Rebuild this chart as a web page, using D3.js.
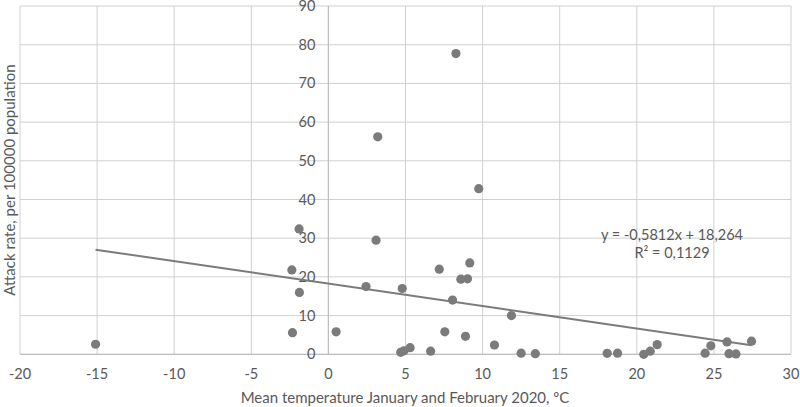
<!DOCTYPE html>
<html><head><meta charset="utf-8">
<script src="https://cdn.jsdelivr.net/npm/d3@7/dist/d3.min.js"></script>
<style>
body{margin:0;background:#fff;}
svg{display:block;}
text{font-family:Lato, "Open Sans", sans-serif;fill:#595959;}
</style></head><body>
<svg id="c" width="800" height="407"></svg>
<script>
const temps = [-15.1,-1.9,-2.37,-1.88,-2.33,0.5,3.09,2.44,4.79,3.2,4.69,4.9,5.3,9.75,8.27,7.19,9.17,8.59,9.02,8.05,11.87,7.55,8.89,10.77,6.63,12.5,13.42,18.08,18.75,20.45,20.87,21.32,24.43,24.8,25.85,25.98,26.43,27.44];
const rates = [2.6,32.4,21.8,16.0,5.6,5.8,29.5,17.5,17.0,56.2,0.5,0.9,1.7,42.8,77.7,22.0,23.6,19.4,19.5,14.0,10.0,5.8,4.65,2.4,0.8,0.3,0.15,0.25,0.3,0.0,0.8,2.5,0.3,2.2,3.2,0.15,0.1,3.4];
const xTicks = [-20,-15,-10,-5,0,5,10,15,20,25,30];
const yTicks = [0,10,20,30,40,50,60,70,80,90];
const slope = -0.5812, intercept = 18.264;
const eqLabel = "y = -0,5812x + 18,264";
const r2Label = "R² = 0,1129";
const xTitle = "Mean temperature January and February 2020, ºC";
const yTitle = "Attack rate, per 100000 population";

const svg = d3.select("#c");
const x = d3.scaleLinear().domain([-20,30]).range([20,791]);
const y = d3.scaleLinear().domain([0,90]).range([354.3,6]);

// gridlines
svg.append("g").selectAll("line").data(xTicks).join("line")
  .attr("x1",d=>x(d)).attr("x2",d=>x(d)).attr("y1",y(0)).attr("y2",y(90))
  .attr("stroke","#d0d0d0").attr("stroke-width",1);
svg.append("g").selectAll("line").data(yTicks).join("line")
  .attr("x1",x(-20)).attr("x2",x(30)).attr("y1",d=>y(d)).attr("y2",d=>y(d))
  .attr("stroke","#d0d0d0").attr("stroke-width",1);

// axis lines
svg.append("line").attr("x1",x(-20)).attr("x2",x(30)).attr("y1",y(0)).attr("y2",y(0))
  .attr("stroke","#bfbfbf").attr("stroke-width",1.2);
svg.append("line").attr("x1",x(0)).attr("x2",x(0)).attr("y1",y(0)).attr("y2",y(90))
  .attr("stroke","#bfbfbf").attr("stroke-width",1.2);

// tick labels
svg.append("g").selectAll("text").data(yTicks).join("text")
  .attr("x",x(0)-13).attr("y",d=>y(d)).attr("dy","0.35em")
  .attr("text-anchor","end").attr("font-size",14.5).text(d=>d);
svg.append("g").selectAll("text").data(xTicks).join("text")
  .attr("x",d=>x(d)).attr("y",374).attr("dy","0.35em")
  .attr("text-anchor","middle").attr("font-size",14.5).text(d=>d);

// points
svg.append("g").selectAll("circle").data(temps.map((t,i)=>[t,rates[i]])).join("circle")
  .attr("cx",d=>x(d[0])).attr("cy",d=>y(d[1])).attr("r",4.6).attr("fill","#7b7b7b");

// trendline
const xmin = d3.min(temps), xmax = d3.max(temps);
svg.append("line").attr("x1",x(xmin)).attr("y1",y(slope*xmin+intercept))
  .attr("x2",x(xmax)).attr("y2",y(slope*xmax+intercept))
  .attr("stroke","#7b7b7b").attr("stroke-width",2);

// equation
svg.append("text").attr("x",672).attr("y",235).attr("dy","0.35em").attr("text-anchor","middle")
  .attr("font-size",14.5).text(eqLabel);
svg.append("text").attr("x",672).attr("y",253).attr("dy","0.35em").attr("text-anchor","middle")
  .attr("font-size",14.5).text(r2Label);

// axis titles
svg.append("text").attr("x",405).attr("y",398).attr("dy","0.35em").attr("text-anchor","middle")
  .attr("font-size",15).text(xTitle);
svg.append("text").attr("transform","translate(10,180) rotate(-90)").attr("dy","0.35em")
  .attr("text-anchor","middle").attr("font-size",15).text(yTitle);
</script>
</body></html>
